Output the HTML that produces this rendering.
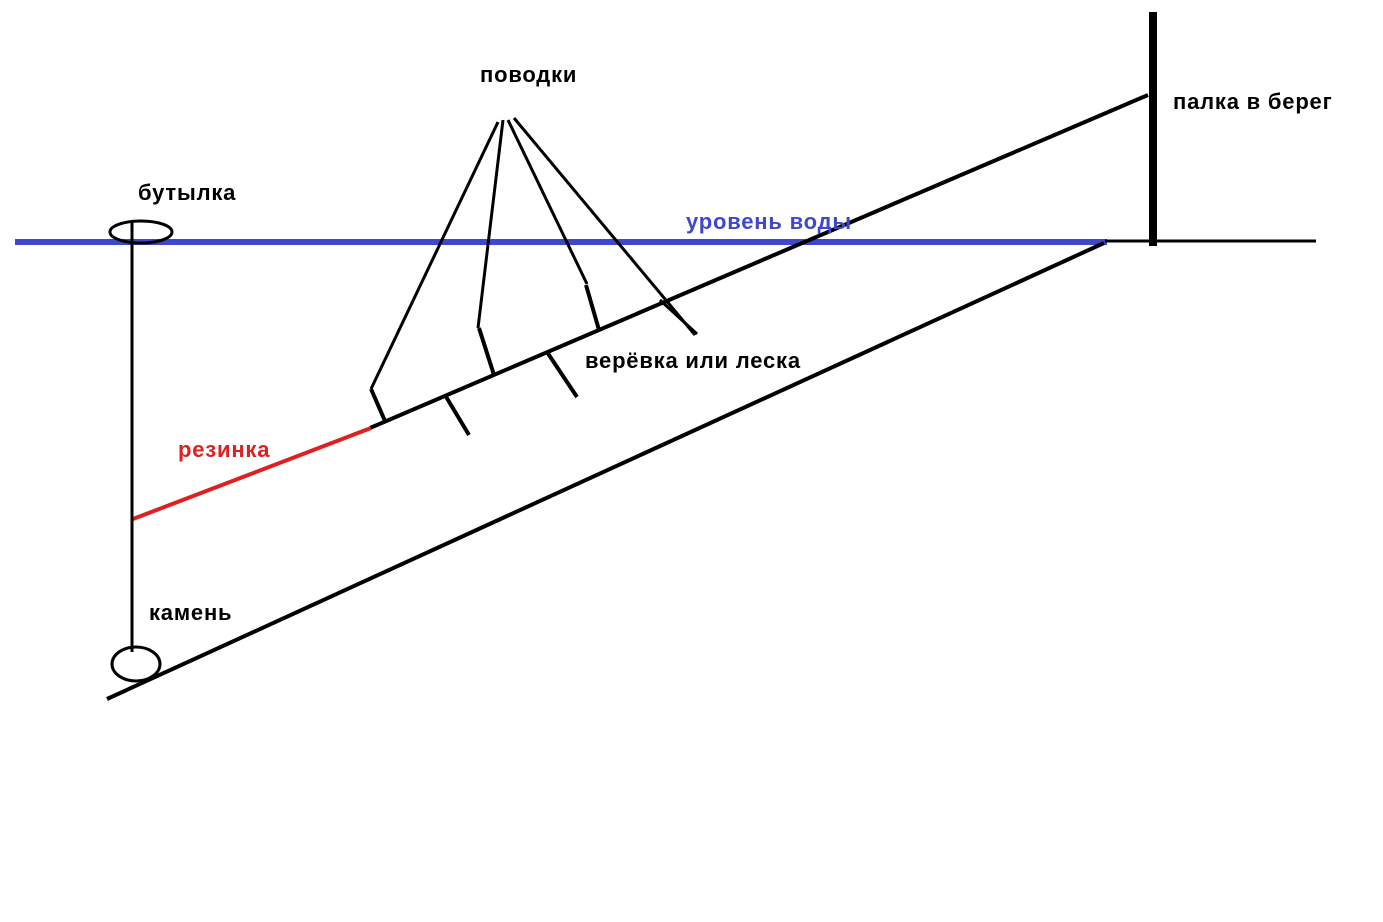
<!DOCTYPE html>
<html><head><meta charset="utf-8"><style>
html,body{margin:0;padding:0;background:#fff;}
svg{display:block}
text{font-family:"Liberation Sans",sans-serif;font-weight:bold;font-size:22px;letter-spacing:0.8px}
</style></head><body>
<svg width="1383" height="922" viewBox="0 0 1383 922">
<rect width="1383" height="922" fill="#fff"/>
<line x1="15" y1="242" x2="1107" y2="242" stroke="#3f48cc" stroke-width="6"/>
<line x1="1105" y1="241" x2="1316" y2="241" stroke="#000" stroke-width="3"/>
<line x1="1153" y1="12" x2="1153" y2="246" stroke="#000" stroke-width="8"/>
<line x1="370" y1="428" x2="1148" y2="95" stroke="#000" stroke-width="4"/>
<line x1="133" y1="519" x2="371" y2="428" stroke="#e02020" stroke-width="4"/>
<line x1="107" y1="699" x2="1104" y2="243" stroke="#000" stroke-width="4"/>
<line x1="132" y1="222" x2="132" y2="652" stroke="#000" stroke-width="3"/>
<ellipse cx="141" cy="232" rx="31" ry="11" fill="none" stroke="#000" stroke-width="3"/>
<ellipse cx="136" cy="664" rx="24" ry="17" fill="none" stroke="#000" stroke-width="3"/>
<g stroke="#000" stroke-width="3" fill="none">
<line x1="498" y1="122" x2="371" y2="389"/>
<line x1="503" y1="120" x2="478" y2="328"/>
<line x1="508" y1="120" x2="587" y2="284"/>
<line x1="514" y1="118" x2="695" y2="335"/>
<line x1="660" y1="300" x2="697" y2="334"/>
</g>
<g stroke="#000" stroke-width="4">
<line x1="371" y1="389" x2="385" y2="421"/>
<line x1="479" y1="328" x2="494" y2="375"/>
<line x1="586" y1="285" x2="599" y2="330"/>
<line x1="445" y1="395" x2="469" y2="435"/>
<line x1="547" y1="352" x2="577" y2="397"/>
</g>
<text x="480" y="82">поводки</text>
<text x="138" y="200">бутылка</text>
<text x="686" y="229" fill="#3f48cc">уровень воды</text>
<text x="1173" y="109">палка в берег</text>
<text x="585" y="368">верёвка или леска</text>
<text x="178" y="457" fill="#e02020">резинка</text>
<text x="149" y="620">камень</text>
</svg>
</body></html>
